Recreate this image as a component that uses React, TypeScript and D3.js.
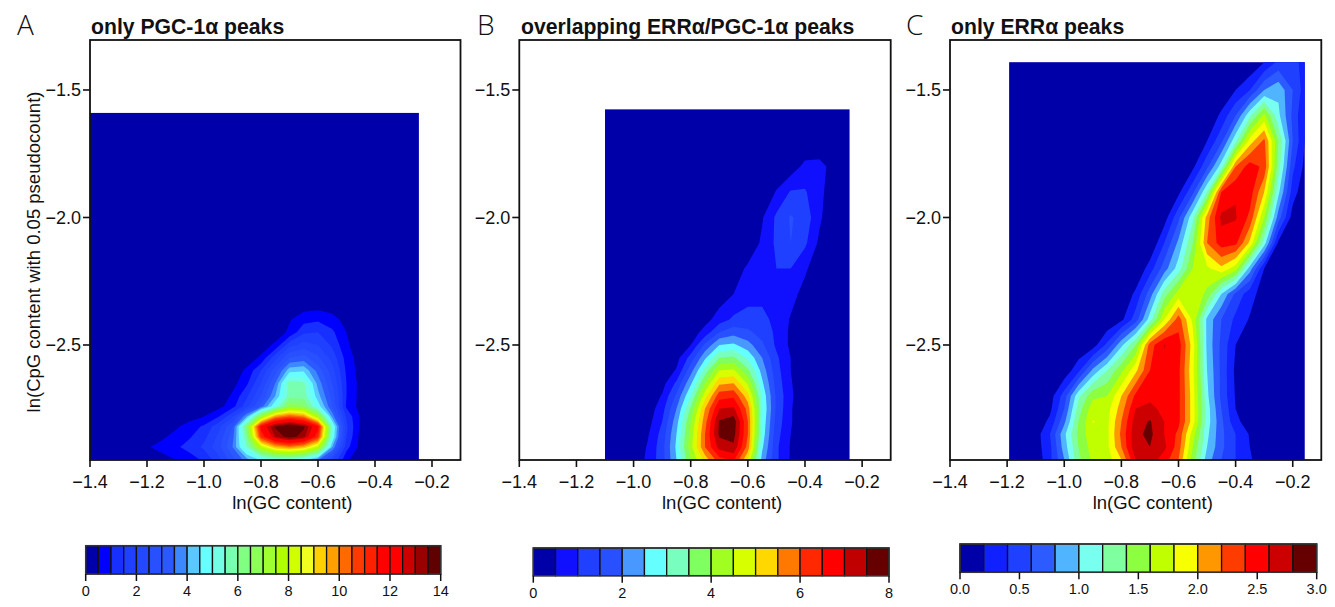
import React from "react";
import * as d3 from "d3";

const W = 1335;
const H = 607;
const FONT = "'Liberation Sans', Arial, Helvetica, sans-serif";

// ---------- shared axis info ----------
const X_TICKS = [-1.4, -1.2, -1.0, -0.8, -0.6, -0.4, -0.2];
const Y_TICKS = [-2.5, -2.0, -1.5];
const X_DOMAIN = [-1.4, -0.1];
const Y_DOMAIN = [-2.951, -1.304];

// ---------- Panel A: only PGC-1α peaks ----------
const xNodesA = [-1.4, -1.35, -1.3, -1.25, -1.2, -1.15, -1.1, -1.05, -1.0, -0.95, -0.9, -0.85, -0.8, -0.75, -0.7, -0.65, -0.6, -0.55, -0.5, -0.45, -0.4, -0.35, -0.3, -0.246];
const yNodesA = [-2.95, -2.9, -2.86, -2.82, -2.78, -2.74, -2.7, -2.65, -2.6, -2.55, -2.5, -2.45, -2.4, -2.35, -1.59];
const densityA = [
  [0, 0, 0, 0, 0.1, 0.3, 0.5, 0.75, 1.1, 1.8, 2.8, 3.8, 4.6, 5.0, 5.0, 4.7, 3.6, 2.0, 0.6, 0.1, 0, 0, 0, 0],
  [0, 0, 0, 0.1, 0.45, 0.65, 0.9, 1.2, 1.6, 2.3, 3.5, 5.5, 8.0, 9.5, 10.0, 9.5, 8.0, 4.0, 1.2, 0.3, 0, 0, 0, 0],
  [0, 0, 0, 0, 0.15, 0.4, 0.65, 0.95, 1.35, 2.1, 3.3, 6.0, 11.0, 13.0, 13.8, 13.2, 11.0, 5.0, 1.5, 0.3, 0, 0, 0, 0],
  [0, 0, 0, 0, 0.05, 0.2, 0.42, 0.7, 1.1, 1.8, 3.0, 6.5, 11.8, 13.6, 14.3, 13.6, 11.8, 5.2, 1.6, 0.35, 0, 0, 0, 0],
  [0, 0, 0, 0, 0, 0, 0.1, 0.3, 0.5, 0.95, 1.9, 4.0, 7.2, 9.8, 10.5, 10.0, 7.5, 3.8, 1.4, 0.4, 0, 0, 0, 0],
  [0, 0, 0, 0, 0, 0, 0, 0, 0.1, 0.3, 0.8, 1.8, 3.2, 5.0, 6.8, 6.6, 4.8, 3.0, 0.9, 0.3, 0, 0, 0, 0],
  [0, 0, 0, 0, 0, 0, 0, 0, 0, 0.1, 0.6, 1.4, 2.5, 4.0, 5.8, 5.8, 4.2, 2.8, 1.0, 0.3, 0, 0, 0, 0],
  [0, 0, 0, 0, 0, 0, 0, 0, 0, 0, 0.3, 0.9, 2.0, 3.5, 5.8, 5.6, 3.8, 2.5, 1.0, 0.3, 0, 0, 0, 0],
  [0, 0, 0, 0, 0, 0, 0, 0, 0, 0, 0.2, 0.6, 1.5, 2.8, 4.3, 4.4, 3.3, 2.2, 0.9, 0.25, 0, 0, 0, 0],
  [0, 0, 0, 0, 0, 0, 0, 0, 0, 0, 0, 0.2, 0.6, 1.8, 3.0, 3.2, 2.6, 1.8, 0.8, 0.2, 0, 0, 0, 0],
  [0, 0, 0, 0, 0, 0, 0, 0, 0, 0, 0, 0, 0.2, 0.6, 1.8, 2.2, 2.0, 1.4, 0.6, 0.1, 0, 0, 0, 0],
  [0, 0, 0, 0, 0, 0, 0, 0, 0, 0, 0, 0, 0, 0.2, 0.6, 1.4, 1.5, 1.1, 0.5, 0.1, 0, 0, 0, 0],
  [0, 0, 0, 0, 0, 0, 0, 0, 0, 0, 0, 0, 0, 0, 0.45, 0.8, 0.9, 0.7, 0.3, 0, 0, 0, 0, 0],
  [0, 0, 0, 0, 0, 0, 0, 0, 0, 0, 0, 0, 0, 0, 0, 0.3, 0.35, 0.25, 0, 0, 0, 0, 0, 0],
  [0, 0, 0, 0, 0, 0, 0, 0, 0, 0, 0, 0, 0, 0, 0, 0, 0, 0, 0, 0, 0, 0, 0, 0],
];
const breaksA = [0, 0.5, 1, 1.5, 2, 2.5, 3, 3.5, 4, 4.5, 5, 5.5, 6, 6.5, 7, 7.5, 8, 8.5, 9, 9.5, 10, 10.5, 11, 11.5, 12, 12.5, 13, 13.5, 14];
const colorsA = ["#0000AA", "#0000FF", "#1830FF", "#2040FF", "#2448FF", "#2850FF", "#2C58FF", "#3C88FF", "#5AC8FF", "#66FFFF", "#72FFE6", "#78FFB0", "#80FF80", "#8CFF58", "#A0FF30", "#B0FF00", "#D0FF00", "#F0FF20", "#FFD000", "#FFA000", "#FF6A00", "#FF3A00", "#FF2000", "#FF0000", "#FF0000", "#CC0000", "#990000", "#600000"];
const cbTicksA = [0, 2, 4, 6, 8, 10, 12, 14];

// ---------- Panel B: overlapping ERRα/PGC-1α peaks ----------
const xNodesB = [-1.1, -1.05, -1.0, -0.95, -0.9, -0.85, -0.8, -0.75, -0.7, -0.65, -0.6, -0.55, -0.5, -0.45, -0.4, -0.35, -0.3, -0.244];
const yNodesB = [-2.95, -2.9, -2.85, -2.8, -2.75, -2.7, -2.65, -2.6, -2.55, -2.5, -2.45, -2.4, -2.3, -2.2, -2.1, -2.0, -1.9, -1.8, -1.7, -1.576];
const densityB = [
  [0, 0, 0.2, 0.6, 1.3, 2.5, 4.0, 5.2, 6.3, 6.6, 5.0, 2.3, 1.1, 0.45, 0.1, 0, 0, 0],
  [0, 0, 0.15, 0.55, 1.3, 2.6, 4.3, 6.0, 7.2, 7.4, 5.8, 2.6, 1.1, 0.45, 0.1, 0, 0, 0],
  [0, 0, 0.1, 0.45, 1.2, 2.5, 4.2, 6.0, 7.6, 7.7, 6.0, 2.8, 1.2, 0.5, 0.1, 0, 0, 0],
  [0, 0, 0, 0.3, 1.0, 2.3, 4.0, 5.8, 7.55, 7.8, 6.0, 2.9, 1.3, 0.55, 0.1, 0, 0, 0],
  [0, 0, 0, 0.2, 0.8, 2.0, 3.6, 5.5, 7.0, 7.1, 5.8, 3.0, 1.4, 0.55, 0.1, 0, 0, 0],
  [0, 0, 0, 0.1, 0.55, 1.6, 3.0, 4.8, 6.3, 6.4, 5.2, 2.9, 1.4, 0.6, 0.1, 0, 0, 0],
  [0, 0, 0, 0, 0.3, 1.1, 2.4, 4.0, 5.4, 5.5, 4.4, 2.6, 1.3, 0.55, 0.1, 0, 0, 0],
  [0, 0, 0, 0, 0.15, 0.55, 1.8, 3.2, 4.5, 4.6, 3.6, 2.3, 1.2, 0.5, 0.05, 0, 0, 0],
  [0, 0, 0, 0, 0, 0.3, 1.2, 2.4, 3.5, 3.6, 2.9, 2.0, 1.1, 0.5, 0, 0, 0, 0],
  [0, 0, 0, 0, 0, 0.1, 0.5, 1.6, 2.5, 2.6, 2.2, 1.6, 0.9, 0.4, 0, 0, 0, 0],
  [0, 0, 0, 0, 0, 0, 0.2, 0.7, 1.5, 1.8, 1.6, 1.3, 0.9, 0.4, 0, 0, 0, 0],
  [0, 0, 0, 0, 0, 0, 0, 0.3, 0.75, 1.1, 1.2, 1.1, 0.9, 0.45, 0.05, 0, 0, 0],
  [0, 0, 0, 0, 0, 0, 0, 0, 0.2, 0.5, 0.8, 0.9, 0.9, 0.7, 0.3, 0, 0, 0],
  [0, 0, 0, 0, 0, 0, 0, 0, 0, 0.2, 0.6, 0.9, 1.0, 1.0, 0.6, 0.1, 0, 0],
  [0, 0, 0, 0, 0, 0, 0, 0, 0, 0, 0.1, 0.6, 1.1, 1.5, 1.1, 0.4, 0, 0],
  [0, 0, 0, 0, 0, 0, 0, 0, 0, 0, 0, 0.45, 1.1, 1.55, 1.3, 0.6, 0.1, 0],
  [0, 0, 0, 0, 0, 0, 0, 0, 0, 0, 0, 0, 0.55, 1.05, 1.05, 0.65, 0.2, 0],
  [0, 0, 0, 0, 0, 0, 0, 0, 0, 0, 0, 0, 0, 0.2, 0.65, 0.7, 0.3, 0],
  [0, 0, 0, 0, 0, 0, 0, 0, 0, 0, 0, 0, 0, 0, 0, 0, 0, 0],
  [0, 0, 0, 0, 0, 0, 0, 0, 0, 0, 0, 0, 0, 0, 0, 0, 0, 0],
];
const breaksB = [0, 0.5, 1, 1.5, 2, 2.5, 3, 3.5, 4, 4.5, 5, 5.5, 6, 6.5, 7, 7.5, 8];
const colorsB = ["#0000A8", "#1010FF", "#2040FF", "#2850FF", "#4898FF", "#66FFFF", "#78FFC0", "#80FF60", "#A0FF20", "#D8FF00", "#FFD800", "#FF7800", "#FF2800", "#FF0000", "#C00000", "#660000"];
const cbTicksB = [0, 2, 4, 6, 8];

// ---------- Panel C: only ERRα peaks ----------
const xNodesC = [-1.193, -1.15, -1.1, -1.05, -1.0, -0.95, -0.9, -0.85, -0.8, -0.75, -0.7, -0.65, -0.6, -0.55, -0.5, -0.45, -0.4, -0.35, -0.3, -0.25, -0.2, -0.158];
const yNodesC = [-2.95, -2.9, -2.85, -2.8, -2.75, -2.7, -2.6, -2.5, -2.4, -2.3, -2.2, -2.1, -2.0, -1.9, -1.8, -1.7, -1.6, -1.5, -1.391];
const densityC = [
  [0, 0, 0.05, 0.35, 0.8, 1.35, 1.65, 1.7, 2.0, 2.6, 2.7, 2.5, 2.2, 1.5, 0.9, 0.6, 0.4, 0.22, 0.1, 0, 0, 0],
  [0, 0, 0.1, 0.35, 0.9, 1.4, 1.7, 1.75, 2.2, 2.75, 2.8, 2.65, 2.3, 1.6, 1.0, 0.65, 0.4, 0.2, 0.05, 0, 0, 0],
  [0, 0, 0.1, 0.4, 0.95, 1.45, 1.75, 1.75, 2.25, 2.75, 2.85, 2.6, 2.35, 1.7, 1.05, 0.65, 0.4, 0.18, 0.05, 0, 0, 0],
  [0, 0, 0.05, 0.25, 0.75, 1.4, 1.81, 1.75, 2.2, 2.7, 2.82, 2.6, 2.45, 1.9, 1.1, 0.65, 0.25, 0.1, 0, 0, 0, 0],
  [0, 0, 0, 0.15, 0.6, 1.3, 1.72, 1.72, 2.1, 2.6, 2.65, 2.55, 2.45, 1.9, 1.1, 0.6, 0.2, 0.05, 0, 0, 0, 0],
  [0, 0, 0, 0.1, 0.5, 1.15, 1.55, 1.6, 2.0, 2.45, 2.55, 2.55, 2.45, 1.9, 1.05, 0.55, 0.18, 0, 0, 0, 0, 0],
  [0, 0, 0, 0, 0.05, 0.35, 0.85, 1.2, 1.55, 1.95, 2.4, 2.55, 2.45, 1.85, 1.0, 0.55, 0.15, 0, 0, 0, 0, 0],
  [0, 0, 0, 0, 0, 0, 0.1, 0.45, 0.95, 1.4, 2.3, 2.61, 2.5, 1.9, 0.95, 0.55, 0.2, 0, 0, 0, 0, 0],
  [0, 0, 0, 0, 0, 0, 0, 0, 0.15, 0.5, 1.1, 1.8, 2.3, 1.75, 0.95, 0.6, 0.35, 0.18, 0, 0, 0, 0],
  [0, 0, 0, 0, 0, 0, 0, 0, 0, 0.25, 0.7, 1.3, 1.7, 1.75, 1.55, 1.0, 0.55, 0.28, 0.1, 0, 0, 0],
  [0, 0, 0, 0, 0, 0, 0, 0, 0, 0, 0.3, 0.7, 1.1, 1.6, 1.75, 1.95, 1.7, 0.9, 0.2, 0, 0, 0],
  [0, 0, 0, 0, 0, 0, 0, 0, 0, 0, 0, 0.4, 0.85, 1.4, 2.2, 2.5, 2.45, 1.95, 1.1, 0.15, 0, 0],
  [0, 0, 0, 0, 0, 0, 0, 0, 0, 0, 0, 0.1, 0.55, 1.15, 2.1, 2.65, 2.62, 2.35, 1.6, 0.7, 0.1, 0],
  [0, 0, 0, 0, 0, 0, 0, 0, 0, 0, 0, 0, 0.15, 0.55, 1.2, 2.4, 2.58, 2.5, 2.0, 1.05, 0.3, 0.05],
  [0, 0, 0, 0, 0, 0, 0, 0, 0, 0, 0, 0, 0, 0.15, 0.55, 1.1, 2.2, 2.5, 2.35, 1.3, 0.45, 0.15],
  [0, 0, 0, 0, 0, 0, 0, 0, 0, 0, 0, 0, 0, 0, 0.2, 0.55, 1.15, 1.9, 2.25, 1.4, 0.6, 0.2],
  [0, 0, 0, 0, 0, 0, 0, 0, 0, 0, 0, 0, 0, 0, 0, 0.25, 0.6, 1.15, 1.65, 1.05, 0.55, 0.2],
  [0, 0, 0, 0, 0, 0, 0, 0, 0, 0, 0, 0, 0, 0, 0, 0, 0.2, 0.4, 0.8, 0.95, 0.6, 0.3],
  [0, 0, 0, 0, 0, 0, 0, 0, 0, 0, 0, 0, 0, 0, 0, 0, 0, 0, 0.2, 0.45, 0.5, 0.3],
];
const breaksC = [0, 0.2, 0.4, 0.6, 0.8, 1.0, 1.2, 1.4, 1.6, 1.8, 2.0, 2.2, 2.4, 2.6, 2.8, 3.0];
const colorsC = ["#0000A8", "#1020FF", "#2040FF", "#2C5CFF", "#50B4FF", "#78FFF0", "#80FFA0", "#8CFF40", "#C0FF00", "#F8FF00", "#FF9800", "#FF3C00", "#FF0000", "#CC0000", "#660000"];
const cbTicksC = [0, 0.5, 1.0, 1.5, 2.0, 2.5, 3.0];

// ---------- layout ----------
const PLOT_TOP = 40;
const PLOT_BOTTOM = 460;

const panels = [
  {
    key: "A", letter: "A", title: "only PGC-1\u03b1 peaks",
    left: 90, right: 460.5, letterX: 17, titleX: 91, yLabel: true,
    xNodes: xNodesA, yNodes: yNodesA, grid: densityA, breaks: breaksA, colors: colorsA,
    cbTicks: cbTicksA, cbFmt: d3.format("d"), bar: { x0: 85.7, x1: 440.7, y0: 545.7, y1: 574 },
  },
  {
    key: "B", letter: "B", title: "overlapping ERR\u03b1/PGC-1\u03b1 peaks",
    left: 519.3, right: 890.7, letterX: 477, titleX: 521, yLabel: false,
    xNodes: xNodesB, yNodes: yNodesB, grid: densityB, breaks: breaksB, colors: colorsB,
    cbTicks: cbTicksB, cbFmt: d3.format("d"), bar: { x0: 533.3, x1: 889, y0: 548, y1: 575.7 },
  },
  {
    key: "C", letter: "C", title: "only ERR\u03b1 peaks",
    left: 950, right: 1321.3, letterX: 906, titleX: 951, yLabel: false,
    xNodes: xNodesC, yNodes: yNodesC, grid: densityC, breaks: breaksC, colors: colorsC,
    cbTicks: cbTicksC, cbFmt: d3.format(".1f"), bar: { x0: 960, x1: 1316.7, y0: 544, y1: 572.3 },
  },
];

function Panel({ p }: { p: any }) {
  const xs = d3.scaleLinear().domain(X_DOMAIN).range([p.left, p.right]);
  const ys = d3.scaleLinear().domain(Y_DOMAIN).range([PLOT_BOTTOM, PLOT_TOP]);
  const nx = p.xNodes.length;
  const ny = p.yNodes.length;
  const ix = d3.scaleLinear().domain(d3.range(nx)).range(p.xNodes.map((v: number) => xs(v))).clamp(true);
  const iy = d3.scaleLinear().domain(d3.range(ny)).range(p.yNodes.map((v: number) => ys(v))).clamp(true);
  const values: number[] = p.grid.flat();
  const levels = p.breaks.slice(1, -1);
  const cs = d3.contours().size([nx, ny]).thresholds(levels)(values);
  const tr = d3.geoTransform({
    point(x: number, y: number) {
      (this as any).stream.point(ix(x - 0.5), iy(y - 0.5));
    },
  });
  const path = d3.geoPath(tr as any);

  const rx0 = xs(p.xNodes[0]);
  const rx1 = xs(p.xNodes[nx - 1]);
  const ry0 = ys(p.yNodes[ny - 1]);
  const ry1 = ys(p.yNodes[0]);

  const fmt = d3.format(".1f");
  const bar = p.bar;
  const n = p.colors.length;
  const cw = (bar.x1 - bar.x0) / n;
  const cbScale = d3.scaleLinear().domain([p.breaks[0], p.breaks[p.breaks.length - 1]]).range([bar.x0, bar.x1]);

  return (
    <g>
      <rect x={rx0} y={ry0} width={rx1 - rx0} height={ry1 - ry0} fill={p.colors[0]} />
      {cs.map((c: any, i: number) => (
        <path key={i} d={path(c) || ""} fill={p.colors[i + 1]} fillRule="evenodd" stroke="none" />
      ))}
      <rect x={p.left} y={PLOT_TOP} width={p.right - p.left} height={PLOT_BOTTOM - PLOT_TOP}
        fill="none" stroke="#111" strokeWidth={1.8} />
      {X_TICKS.map((t) => (
        <g key={"x" + t}>
          <line x1={xs(t)} x2={xs(t)} y1={PLOT_BOTTOM} y2={PLOT_BOTTOM + 7} stroke="#111" strokeWidth={1.6} />
          <text x={xs(t)} y={488} textAnchor="middle" fontSize={18} fontFamily={FONT} fill="#111">{fmt(t)}</text>
        </g>
      ))}
      {Y_TICKS.map((t) => (
        <g key={"y" + t}>
          <line x1={p.left - 7} x2={p.left} y1={ys(t)} y2={ys(t)} stroke="#111" strokeWidth={1.6} />
          <text x={p.left - 9} y={ys(t)} dy="0.35em" textAnchor="end" fontSize={18} fontFamily={FONT} fill="#111">{fmt(t)}</text>
        </g>
      ))}
      <text x={xs(-0.69)} y={509} textAnchor="middle" fontSize={18.5} fontFamily={FONT} fill="#111">ln(GC content)</text>
      {p.yLabel && (
        <text transform="translate(40,252) rotate(-90)" textAnchor="middle" fontSize={18.5} fontFamily={FONT} fill="#111">
          ln(CpG content with 0.05 pseudocount)
        </text>
      )}
      <text x={p.letterX} y={35} fontSize={28} fontWeight={300} fontFamily="'Open Sans', 'Liberation Sans', sans-serif" fill="#111">{p.letter}</text>
      <text x={p.titleX} y={34} fontSize={21.2} fontWeight="bold" fontFamily={FONT} fill="#111">{p.title}</text>

      {/* colour key */}
      {p.colors.map((col: string, i: number) => (
        <rect key={"cb" + i} x={bar.x0 + i * cw} y={bar.y0} width={cw} height={bar.y1 - bar.y0}
          fill={col} stroke="#111" strokeWidth={1.3} />
      ))}
      <rect x={bar.x0} y={bar.y0} width={bar.x1 - bar.x0} height={bar.y1 - bar.y0} fill="none" stroke="#333" strokeWidth={1.5} />
      {p.cbTicks.map((t: number) => (
        <g key={"cbt" + t}>
          <line x1={cbScale(t)} x2={cbScale(t)} y1={bar.y1} y2={bar.y1 + 7} stroke="#111" strokeWidth={1.5} />
          <text x={cbScale(t)} y={bar.y1 + 22} textAnchor="middle" fontSize={14.5} fontFamily={FONT} fill="#111">{p.cbFmt(t)}</text>
        </g>
      ))}
    </g>
  );
}

export default function App() {
  return (
    <svg width={W} height={H} viewBox={`0 0 ${W} ${H}`}
      style={{ position: "absolute", left: 0, top: 0, background: "#fff" }}>
      <rect x={0} y={0} width={W} height={H} fill="#fff" />
      {panels.map((p) => <Panel key={p.key} p={p} />)}
    </svg>
  );
}
